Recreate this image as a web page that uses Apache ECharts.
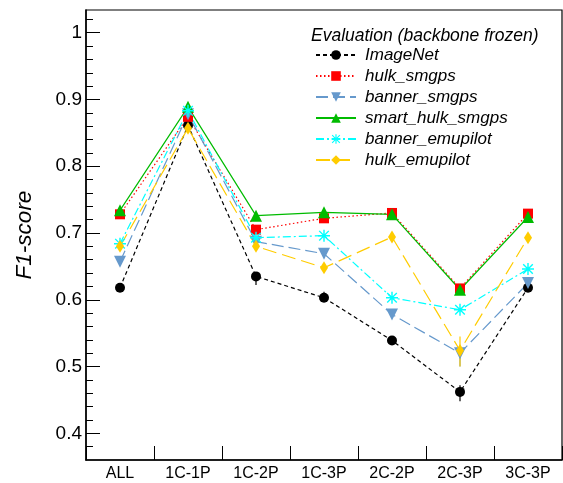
<!DOCTYPE html>
<html>
<head>
<meta charset="utf-8">
<script src="https://cdn.jsdelivr.net/npm/echarts@6/dist/echarts.min.js"></script>
<style>
html,body{margin:0;padding:0;background:#fff;}
#chart{width:563px;height:483px;}
</style>
</head>
<body>
<div id="chart"></div>
<script>
// categories and values
var categories=['ALL','1C-1P','1C-2P','1C-3P','2C-2P','2C-3P','3C-3P'];
var imagenet=[0.618,0.861,0.635,0.603,0.539,0.462,0.618];
var hulkSmgps=[0.728,0.874,0.705,0.722,0.730,0.617,0.729];
var bannerSmgps=[0.657,0.878,0.687,0.669,0.578,0.520,0.625];
var smartHulkSmgps=[0.734,0.889,0.726,0.731,0.728,0.615,0.724];
var bannerEmupilot=[0.684,0.883,0.693,0.696,0.603,0.585,0.646];
var hulkEmupilot=[0.680,0.857,0.680,0.648,0.694,0.524,0.693];
// visible error bars [low, high]
var imagenetErr=[null,null,[0.622,0.635],[0.603,0.612],null,[0.448,0.472],null];
var hulkEmupilotErr=[null,null,null,null,null,[0.500,0.545],null];
var bannerSmgpsErr=[null,null,null,null,null,[0.500,0.520],null];
var majorTicks=[0.4,0.5,0.6,0.7,0.8,0.9,1.0];
var minorTicks=[];
for(var t=38;t<=102;t+=2){minorTicks.push(t/100);}

var font='Liberation Sans';
var starPath='path://M0,4.4L10,4.4L10,5.6L0,5.6Z M4.4,0L5.6,0L5.6,10L4.4,10Z M0.6,1.4L1.4,0.6L9.4,8.6L8.6,9.4Z M8.6,0.6L9.4,1.4L1.4,9.4L0.6,8.6Z';

function lineSeries(name,data,color,dash,symbol,size){
    return {
        name:name,type:'line',data:data,
        symbol:symbol,symbolSize:size,
        itemStyle:{color:color},
        lineStyle:{color:color,width:1.2,type:dash},
        emphasis:{disabled:true}
    };
}
function errSeries(err,color){
    var d=[];
    err.forEach(function(e,i){ if(e){d.push([i,e[0],e[1]]);} });
    return {
        type:'custom',data:d,silent:true,
        renderItem:function(params,api){
            var a=api.coord([api.value(0),api.value(1)]);
            var b=api.coord([api.value(0),api.value(2)]);
            return {type:'line',shape:{x1:a[0],y1:a[1],x2:b[0],y2:b[1]},style:{stroke:color,lineWidth:1.2}};
        }
    };
}

var myChart=echarts.init(document.getElementById('chart'));
var option={
    animation:false,
    title:{text:'Evaluation (backbone frozen)',left:311,top:27,padding:0,
        textStyle:{fontFamily:font,fontStyle:'italic',fontWeight:'normal',fontSize:17.5,color:'#000'}},
    legend:{orient:'vertical',left:315,top:46,padding:0,itemWidth:40,itemHeight:12,itemGap:3,
        data:['ImageNet','hulk_smgps','banner_smgps','smart_hulk_smgps','banner_emupilot','hulk_emupilot'],
        textStyle:{fontFamily:font,fontStyle:'italic',fontSize:17,color:'#000',lineHeight:18,padding:[0,0,0,4]}},
    grid:{left:86,top:10,right:1,bottom:23,show:true,borderColor:'#000',borderWidth:1.2},
    xAxis:{type:'category',data:categories,boundaryGap:true,
        axisLine:{show:true,lineStyle:{color:'#000',width:1.5}},
        axisTick:{show:true,interval:0,inside:true,length:14,lineStyle:{color:'#000',width:1}},
        axisLabel:{fontFamily:font,fontSize:16,color:'#000',margin:6},
        splitLine:{show:false}},
    yAxis:[{type:'value',min:0.36,max:1.034,
        name:'F1-score',nameLocation:'middle',nameGap:50,
        nameTextStyle:{fontFamily:font,fontStyle:'italic',fontSize:22.5,color:'#000'},
        axisLine:{show:true,lineStyle:{color:'#000',width:1.5}},
        axisTick:{show:true,inside:true,length:14,customValues:majorTicks,lineStyle:{color:'#000',width:1}},
        axisLabel:{fontFamily:font,fontSize:19,color:'#000',margin:4,customValues:majorTicks,
            formatter:function(v){return v===1?'1':v.toFixed(1);}},
        splitLine:{show:false}},
        {type:'value',min:0.36,max:1.034,position:'left',
        axisLine:{show:false},
        axisTick:{show:true,inside:true,length:7,customValues:minorTicks,lineStyle:{color:'#000',width:1}},
        axisLabel:{show:false},splitLine:{show:false}}],
    series:[
        lineSeries('ImageNet',imagenet,'#000000',[4,3],'circle',10),
        lineSeries('hulk_smgps',hulkSmgps,'#ff0000',[1.5,2.5],'rect',10),
        lineSeries('banner_smgps',bannerSmgps,'#6699cc',[12,5],'triangle',12),
        lineSeries('smart_hulk_smgps',smartHulkSmgps,'#00bb00','solid','triangle',12),
        lineSeries('banner_emupilot',bannerEmupilot,'#00ffff',[8,3,2,3],starPath,12),
        lineSeries('hulk_emupilot',hulkEmupilot,'#ffcc00',[14,6],'diamond',[8,13]),
        errSeries(imagenetErr,'#000000'),
        errSeries(bannerSmgpsErr,'#6699cc'),
        errSeries(hulkEmupilotErr,'#ffcc00')
    ]
};
// banner_smgps uses a downward triangle
option.series[2].symbolRotate=180;
myChart.setOption(option);
</script>
</body>
</html>
